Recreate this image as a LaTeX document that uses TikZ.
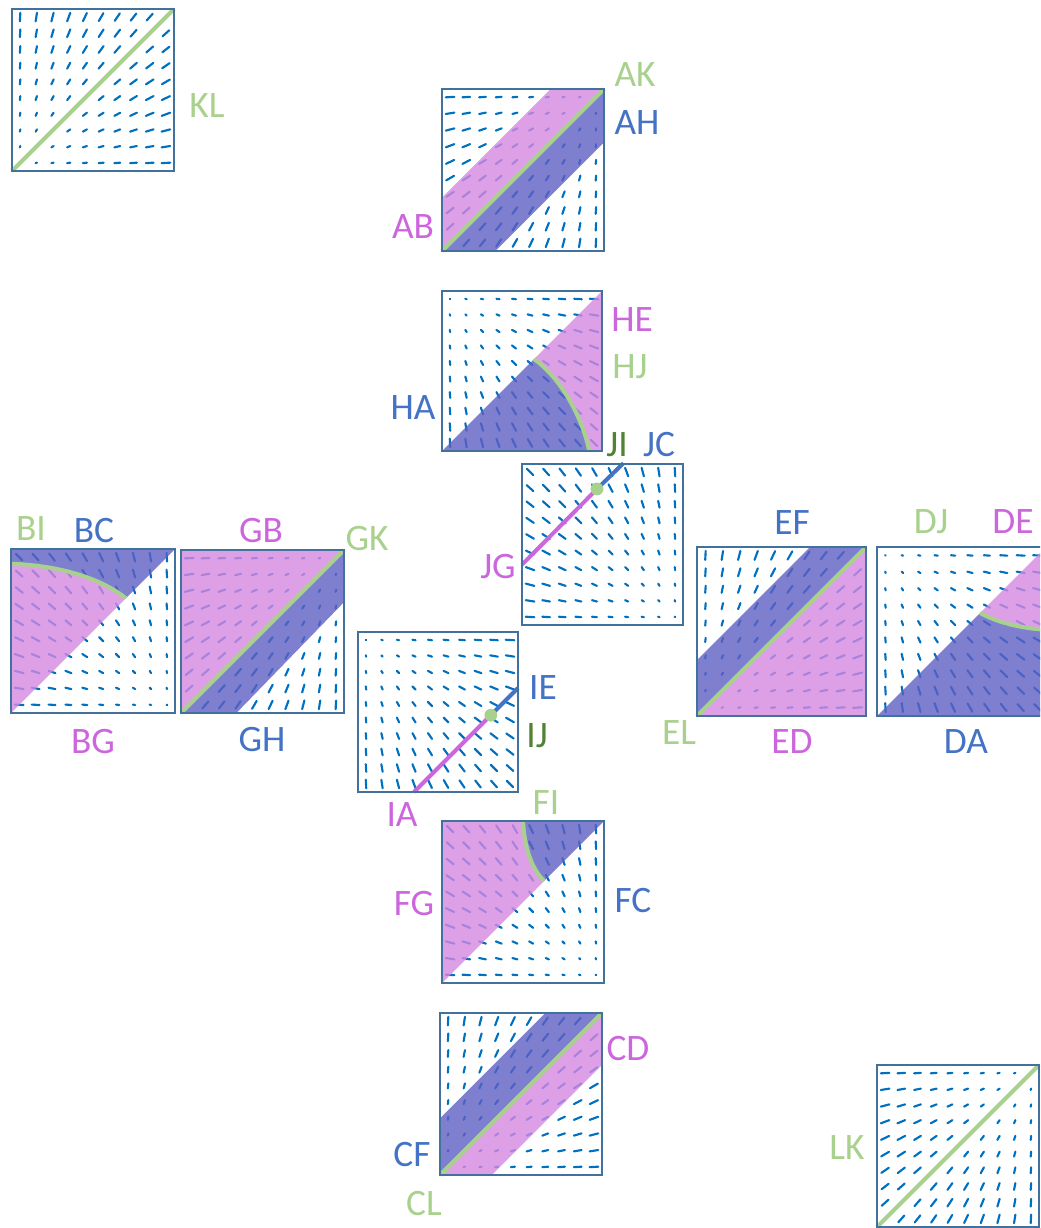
\documentclass[tikz,border=0pt]{standalone}
\usepackage{fontspec}
\setmainfont{Carlito}
\definecolor{boxc}{RGB}{65,113,156}
\definecolor{markc}{RGB}{0,112,192}
\definecolor{pinkf}{RGB}{212,136,224}
\definecolor{bluef}{RGB}{95,95,196}
\definecolor{greenc}{RGB}{169,209,142}
\definecolor{dgreenc}{RGB}{84,130,53}
\definecolor{magc}{RGB}{204,102,221}
\definecolor{bluet}{RGB}{68,114,196}
\tikzset{
 vmark/.style={draw=markc, line width=1.6pt, line cap=round},
 boxline/.style={draw=boxc, line width=1.8pt},
 pinkreg/.style={fill=pinkf, fill opacity=0.8},
 bluereg/.style={fill=bluef, fill opacity=0.8},
 gline/.style={draw=greenc, line width=3pt},
 mline/.style={draw=magc, line width=3pt},
 bline/.style={draw=bluet, line width=3pt},
 lab/.style={inner sep=0pt, text height=18pt, text depth=0pt, font=\fontsize{28}{32}\selectfont},
}
\newcommand\vfield[2]{%
 \foreach \i in {0,...,9}{\foreach \j in {0,...,9}{%
  \pgfmathsetmacro\pu{0.05+0.1*\i}%
  \pgfmathsetmacro\pv{0.05+0.1*\j}%
  \pgfmathsetmacro\ddx{\pu-(#1)}%
  \pgfmathsetmacro\ddy{\pv-(#2)}%
  \pgfmathsetmacro\rr{max(sqrt(\ddx*\ddx+\ddy*\ddy),0.001)}%
  \pgfmathsetmacro\ff{0.028*min(\rr,1)/\rr}%
  \pgfmathsetmacro\ax{\pu-\ff*\ddx}%
  \pgfmathsetmacro\ay{\pv-\ff*\ddy}%
  \pgfmathsetmacro\bx{\pu+\ff*\ddx}%
  \pgfmathsetmacro\by{\pv+\ff*\ddy}%
  \draw[vmark] (\ax,\ay) -- (\bx,\by);
 }}}
\newcommand\vfpanel[6]{%
 \pgfmathsetmacro\psz{#3*0.75}%
 \begin{scope}[shift={(#1,#2)}, x=\psz pt, y=\psz pt]
  \vfield{#4}{#5}
  #6
  \draw[boxline] (0,0) rectangle (1,1);
 \end{scope}}
\begin{document}
\begin{tikzpicture}[x=0.75pt, y=-0.75pt]
\useasboundingbox (0,0) rectangle (1040,1228);
\clip (0,0) rectangle (1040,1228);
% KL
\vfpanel{12}{171}{162}{0}{0}{%
 \draw[gline] (0,0) -- (1,1);}
% AH
\vfpanel{442}{251}{162}{1}{1}{%
 \path[pinkreg] (0,0) -- (0,0.33) -- (0.67,1) -- (1,1) -- cycle;
 \path[bluereg] (0,0) -- (1,1) -- (1,0.67) -- (0.33,0) -- cycle;
 \draw[gline] (0,0) -- (1,1);}
% HA
\vfpanel{442}{451}{160}{0}{1}{%
 \path[pinkreg] (0.575,0.575) -- (1,1) -- (1,0) -- (0.92,0) .. controls (0.88,0.2) and (0.75,0.45) .. (0.575,0.575) -- cycle;
 \path[bluereg] (0,0) -- (0.575,0.575) .. controls (0.75,0.45) and (0.88,0.2) .. (0.92,0) -- cycle;
 \draw[gline] (0.575,0.575) .. controls (0.75,0.45) and (0.88,0.2) .. (0.92,0);}
% JI
\vfpanel{522}{625}{161}{1}{0}{%
 \draw[mline] (0,0.375) -- (0.466,0.845);
 \draw[bline] (0.466,0.845) -- (0.63,1.005);
 \fill[greenc] (0.466,0.845) circle[radius=0.04];}
% BI
\vfpanel{11}{713}{164}{1}{0}{%
 \path[bluereg] (0,0.91) -- (0,1) -- (1,1) -- (0.7,0.7) .. controls (0.55,0.82) and (0.3,0.9) .. (0,0.91) -- cycle;
 \path[pinkreg] (0,0) -- (0,0.91) .. controls (0.3,0.9) and (0.55,0.82) .. (0.7,0.7) -- cycle;
 \draw[gline] (0,0.91) .. controls (0.3,0.9) and (0.55,0.82) .. (0.7,0.7);}
% GB
\vfpanel{181}{713}{163}{1}{1}{%
 \path[pinkreg] (0,0) -- (0,1) -- (1,1) -- cycle;
 \path[bluereg] (0,0) -- (1,1) -- (1,0.68) -- (0.34,0) -- cycle;
 \draw[gline] (0,0) -- (1,1);}
% IA
\vfpanel{358}{792}{160}{0}{1}{%
 \draw[mline] (0.35,0) -- (0.83,0.48);
 \draw[bline] (0.83,0.48) -- (1,0.65);
 \fill[greenc] (0.83,0.48) circle[radius=0.04];}
% FG
\vfpanel{442}{983}{162}{1}{0}{%
 \path[pinkreg] (0,0) -- (0,1) -- (0.5,1) .. controls (0.51,0.82) and (0.56,0.7) .. (0.63,0.63) -- cycle;
 \path[bluereg] (0.5,1) .. controls (0.51,0.82) and (0.56,0.7) .. (0.63,0.63) -- (1,1) -- cycle;
 \draw[gline] (0.5,1) .. controls (0.51,0.82) and (0.56,0.7) .. (0.63,0.63);}
% CF
\vfpanel{440}{1175}{162}{0}{0}{%
 \path[bluereg] (0,0) -- (0,0.35) -- (0.65,1) -- (1,1) -- cycle;
 \path[pinkreg] (0,0) -- (1,1) -- (1,0.68) -- (0.32,0) -- cycle;
 \draw[gline] (0,0) -- (1,1);}
% EF
\vfpanel{697}{716}{169}{0}{0}{%
 \path[bluereg] (0,0) -- (0,0.33) -- (0.67,1) -- (1,1) -- cycle;
 \path[pinkreg] (0,0) -- (1,1) -- (1,0) -- cycle;
 \draw[gline] (0,0) -- (1,1);}
% DA
\vfpanel{877}{716}{169}{0}{1}{%
 \path[bluereg] (0,0) -- (0.61,0.61) .. controls (0.72,0.55) and (0.85,0.52) .. (1,0.51) -- (1,0) -- cycle;
 \path[pinkreg] (0.61,0.61) .. controls (0.72,0.55) and (0.85,0.52) .. (1,0.51) -- (1,1) -- cycle;
 \draw[gline] (0.61,0.61) .. controls (0.72,0.55) and (0.85,0.52) .. (1,0.51);}
% LK
\vfpanel{877}{1227}{162}{1}{1}{%
 \draw[gline] (0,0) -- (1,1);}
% labels
\node[lab, text=greenc] (lKL) at (207,105) {KL};
\node[lab, text=greenc] (lAK) at (635,74) {AK};
\node[lab, text=bluet] (lAH) at (637,122) {AH};
\node[lab, text=magc] (lAB) at (413,226) {AB};
\node[lab, text=magc] (lHE) at (632,319) {HE};
\node[lab, text=greenc] (lHJ) at (630,366) {HJ};
\node[lab, text=bluet] (lHA) at (413,407) {HA};
\node[lab, text=dgreenc] (lJI) at (617,444) {JI};
\node[lab, text=bluet] (lJC) at (659,444) {JC};
\node[lab, text=magc] (lJG) at (498,566) {JG};
\node[lab, text=greenc] (lBI) at (31,528) {BI};
\node[lab, text=bluet] (lBC) at (94,530) {BC};
\node[lab, text=magc] (lGB) at (261,530) {GB};
\node[lab, text=greenc] (lGK) at (367,538) {GK};
\node[lab, text=magc] (lBG) at (93,741) {BG};
\node[lab, text=bluet] (lGH) at (262,739) {GH};
\node[lab, text=bluet] (lIE) at (543,687) {IE};
\node[lab, text=dgreenc] (lIJ) at (537,735) {IJ};
\node[lab, text=magc] (lIA) at (402,814) {IA};
\node[lab, text=greenc] (lFI) at (546,802) {FI};
\node[lab, text=magc] (lFG) at (414,903) {FG};
\node[lab, text=bluet] (lFC) at (633,900) {FC};
\node[lab, text=bluet] (lEF) at (792,522) {EF};
\node[lab, text=greenc] (lDJ) at (931,521) {DJ};
\node[lab, text=magc] (lDE) at (1013,521) {DE};
\node[lab, text=greenc] (lEL) at (679,732) {EL};
\node[lab, text=magc] (lED) at (792,741) {ED};
\node[lab, text=bluet] (lDA) at (966,741) {DA};
\node[lab, text=magc] (lCD) at (628,1048) {CD};
\node[lab, text=bluet] (lCF) at (412,1154) {CF};
\node[lab, text=greenc] (lCL) at (424,1203) {CL};
\node[lab, text=greenc] (lLK) at (847,1147) {LK};
\end{tikzpicture}
\end{document}
